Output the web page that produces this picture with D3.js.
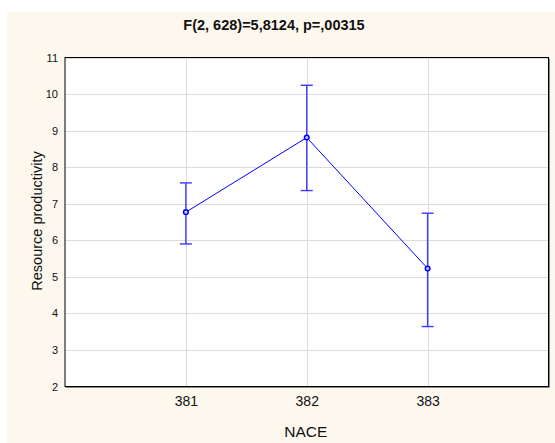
<!DOCTYPE html>
<html>
<head>
<meta charset="utf-8">
<script src="https://cdn.jsdelivr.net/npm/d3@7"></script>
<style>
  body { margin: 0; background: #fff; }
  svg { display: block; font-family: "Liberation Sans", Arial, sans-serif; }
</style>
</head>
<body>
<svg id="chart" width="555" height="443"></svg>
<script>
// data
const categories = [381, 382, 383];
const means = [6.77, 8.81, 5.23];
const upper = [7.57, 10.24, 6.74];
const lower = [5.90, 7.36, 3.64];
const yTicks = [2, 3, 4, 5, 6, 7, 8, 9, 10, 11];

const titleText = "F(2, 628)=5,8124, p=,00315";
const xLabel = "NACE";
const yLabel = "Resource productivity";

const svg = d3.select("#chart");
const plotL = 65, plotT = 57.5, plotR = 548.5, plotB = 386.5;

// beige page
svg.append("rect")
  .attr("x", 7).attr("y", 12)
  .attr("width", 548).attr("height", 431)
  .attr("fill", "#fdf8ee");

const x = d3.scaleLinear().domain([380, 384]).range([plotL, plotR]);
const y = d3.scaleLinear().domain([2, 11]).range([plotB, plotT]);

// plot area
svg.append("rect")
  .attr("x", plotL).attr("y", plotT)
  .attr("width", plotR - plotL).attr("height", plotB - plotT)
  .attr("fill", "#fff");

// grid
svg.append("g")
  .selectAll("line")
  .data(yTicks)
  .join("line")
  .attr("x1", plotL).attr("x2", plotR)
  .attr("y1", d => Math.round(y(d)) + 0.5)
  .attr("y2", d => Math.round(y(d)) + 0.5)
  .attr("stroke", "#dcdcdc");

svg.append("g")
  .selectAll("line")
  .data(categories)
  .join("line")
  .attr("x1", d => Math.round(x(d)) + 0.5)
  .attr("x2", d => Math.round(x(d)) + 0.5)
  .attr("y1", plotT).attr("y2", plotB)
  .attr("stroke", "#dcdcdc");

// frame with thin shadow
svg.append("path")
  .attr("d", `M${plotL + 1},${plotB + 1}H${plotR + 1}V${plotT + 1}`)
  .attr("fill", "none")
  .attr("stroke", "#888");
svg.append("rect")
  .attr("x", plotL).attr("y", plotT)
  .attr("width", plotR - plotL).attr("height", plotB - plotT)
  .attr("fill", "none")
  .attr("stroke", "#000");

// axes (labels only, no domain / tick marks)
const yAxis = d3.axisLeft(y).tickValues(yTicks).tickSize(0).tickPadding(7);
svg.append("g")
  .attr("transform", `translate(${plotL},0)`)
  .call(yAxis)
  .call(g => g.select(".domain").remove())
  .call(g => g.selectAll("text")
    .attr("font-size", 11)
    .attr("font-family", "Liberation Sans, Arial, sans-serif")
    .attr("fill", "#111"));

const xAxis = d3.axisBottom(x).tickValues(categories).tickSize(0).tickPadding(10)
  .tickFormat(d3.format("d"));
svg.append("g")
  .attr("transform", `translate(0,${plotB})`)
  .call(xAxis)
  .call(g => g.select(".domain").remove())
  .call(g => g.selectAll("text")
    .attr("font-size", 14)
    .attr("font-family", "Liberation Sans, Arial, sans-serif")
    .attr("fill", "#111"));

// titles
svg.append("text")
  .attr("x", 274).attr("y", 30)
  .attr("text-anchor", "middle")
  .attr("font-size", 14.5)
  .attr("font-weight", "bold")
  .attr("fill", "#111")
  .text(titleText);

svg.append("text")
  .attr("x", (plotL + plotR) / 2 - 1).attr("y", 437)
  .attr("text-anchor", "middle")
  .attr("font-size", 15.5)
  .attr("fill", "#111")
  .text(xLabel);

svg.append("text")
  .attr("transform", `translate(42,${(plotT + plotB) / 2 - 1}) rotate(-90)`)
  .attr("text-anchor", "middle")
  .attr("font-size", 14.5)
  .attr("fill", "#111")
  .text(yLabel);

// error bars
const blue = "#0000ff";
const bars = svg.append("g")
  .attr("stroke", "#3a3aff")
  .attr("stroke-width", 1.4);
categories.forEach((c, i) => {
  const cx = x(c);
  bars.append("line")
    .attr("x1", cx).attr("x2", cx)
    .attr("y1", y(upper[i])).attr("y2", y(lower[i]));
  [upper[i], lower[i]].forEach(v => {
    bars.append("line")
      .attr("x1", cx - 6).attr("x2", cx + 6)
      .attr("y1", y(v)).attr("y2", y(v));
  });
});

// mean line
const line = d3.line()
  .x((d, i) => x(categories[i]))
  .y(d => y(d));
svg.append("path")
  .attr("d", line(means))
  .attr("fill", "none")
  .attr("stroke", blue)
  .attr("stroke-width", 1);

svg.append("g")
  .selectAll("circle")
  .data(means)
  .join("circle")
  .attr("cx", (d, i) => x(categories[i]))
  .attr("cy", d => y(d))
  .attr("r", 2.3)
  .attr("fill", "#c8c8ff")
  .attr("stroke", blue)
  .attr("stroke-width", 1.5);
</script>
</body>
</html>
